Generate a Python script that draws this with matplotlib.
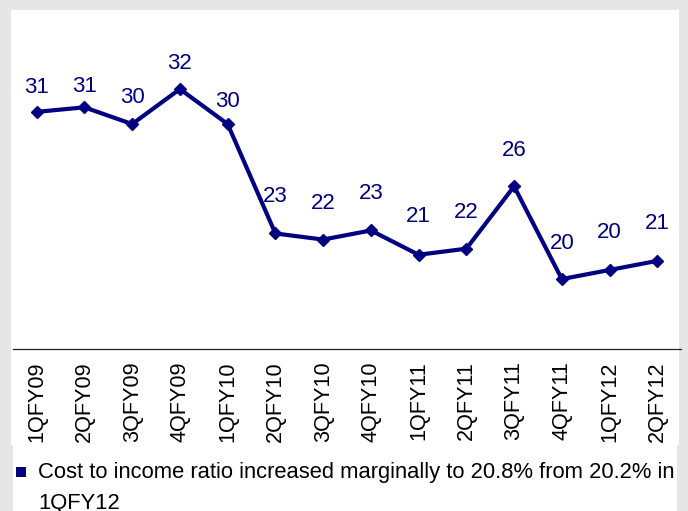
import matplotlib
matplotlib.use("Agg")
import matplotlib.pyplot as plt
from matplotlib.patches import Rectangle

# ---- data ----
quarters = ["1QFY09", "2QFY09", "3QFY09", "4QFY09", "1QFY10", "2QFY10", "3QFY10",
            "4QFY10", "1QFY11", "2QFY11", "3QFY11", "4QFY11", "1QFY12", "2QFY12"]
cost_income = [30.6, 30.9, 29.8, 32.1, 29.8, 22.6, 22.2,
               22.8, 21.2, 21.6, 25.7, 19.6, 20.2, 20.8]
value_labels = ["31", "31", "30", "32", "30", "23", "22",
                "23", "21", "22", "26", "20", "20", "21"]
note_line1 = "Cost to income ratio increased marginally to 20.8% from 20.2% in"
note_line2 = "1QFY12"

# label placement (pixels above the marker)
label_offsets_px = [24, 21, 27, 26, 23, 37, 36, 37, 38, 36, 36, 36, 37, 37]

W, H = 688, 511
NAVY = "#000080"
plt.rcParams["font.family"] = ["Liberation Sans", "DejaVu Sans"]

fig = plt.figure(figsize=(W / 100, H / 100), dpi=100, facecolor="#e6e6e6")

# white panels (figure pixel coords)
def px_rect(x0, y0, x1, y1, color, z=-10):
    fig.patches.append(Rectangle((x0 / W, 1 - y1 / H), (x1 - x0) / W, (y1 - y0) / H,
                                 transform=fig.transFigure, facecolor=color,
                                 edgecolor="none", zorder=z))

px_rect(11, 10, 679, 445, "white")
px_rect(13, 445, 677, 511, "white")

# axes: x from 12.8 to 681.2 px, y from 45 to 349 px
ax_left, ax_right, ax_top, ax_bottom = 12.8, 681.2, 45, 349
ax = fig.add_axes([ax_left / W, 1 - ax_bottom / H, (ax_right - ax_left) / W,
                   (ax_bottom - ax_top) / H])
ax.set_facecolor("none")
ax.set_zorder(5)

x = list(range(len(quarters)))
ax.plot(x, cost_income, color=NAVY, lw=3.0, marker="D", markersize=6.2,
        markerfacecolor=NAVY, markeredgecolor=NAVY, markeredgewidth=1, zorder=3,
        clip_on=False)

for xi, v, lab, off in zip(x, cost_income, value_labels, label_offsets_px):
    ax.annotate(lab, (xi, v), xytext=(0, off * 0.72), textcoords="offset points",
                ha="center", va="center", color=NAVY, fontsize=16)

ax.set_xlim(-0.5, len(quarters) - 0.5)
ax.set_ylim(15, 35)
ax.set_xticks(x)
ax.set_xticklabels(quarters, rotation=90, fontsize=15.6, color="black")
ax.tick_params(axis="x", length=0, pad=9)
ax.set_yticks([])
for s in ["left", "right", "top"]:
    ax.spines[s].set_visible(False)
ax.spines["bottom"].set_color("#222222")
ax.spines["bottom"].set_linewidth(0.9)

# bullet note
px_rect(16, 467, 26, 477, NAVY, z=2)
fig.text(38 / W, 1 - 478 / H, note_line1, fontsize=15.8, color="black",
         ha="left", va="baseline")
fig.text(38 / W, 1 - 509 / H, note_line2, fontsize=15.8, color="black",
         ha="left", va="baseline")

fig.savefig("out.png", dpi=100, facecolor=fig.get_facecolor())
